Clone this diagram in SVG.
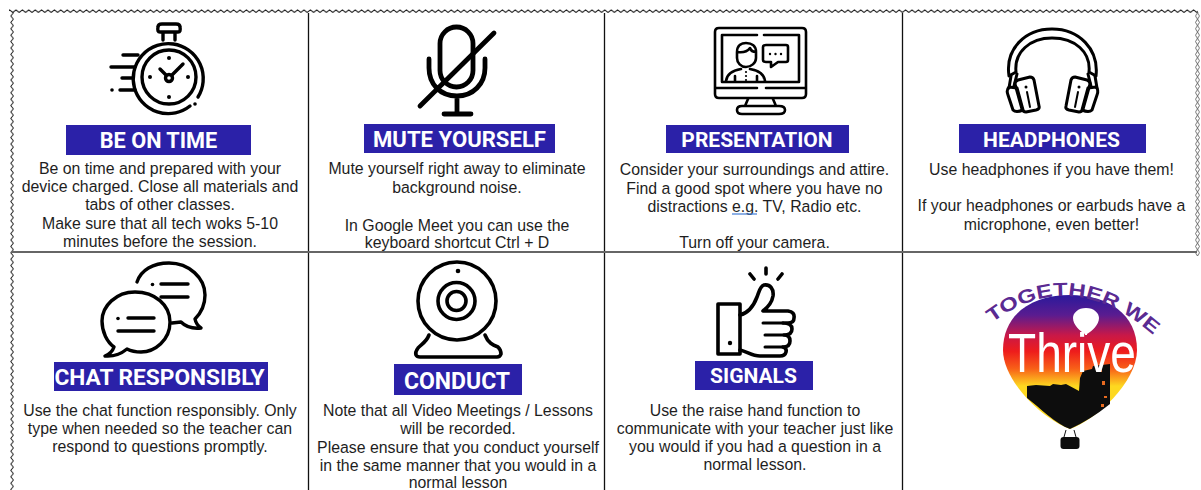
<svg xmlns="http://www.w3.org/2000/svg" xmlns:xlink="http://www.w3.org/1999/xlink" width="1201" height="490" viewBox="0 0 1201 490">
<style>
.t{font-family:"Liberation Sans",Arial,sans-serif;font-size:15.85px;fill:#1e1e1e;text-anchor:middle}
.h{font-family:Roboto,"Liberation Sans",sans-serif;font-size:21px;font-weight:700;fill:#fff;text-anchor:middle}
.b{fill:#2b21a8}
.i{fill:none;stroke:#000;stroke-width:3.4;stroke-linecap:round;stroke-linejoin:round}
.d{fill:#000;stroke:none}
.g{stroke:#111;stroke-width:1.3;fill:none}
.g2{stroke:#666;stroke-width:2;fill:none}
</style>
<defs>
<pattern id="zh" patternUnits="userSpaceOnUse" width="6.4" height="5" y="9"><path d="M0 3.5L3.2 .8L6.4 3.5" fill="none" stroke="#222" stroke-width="1"/></pattern>
<pattern id="zv" patternUnits="userSpaceOnUse" width="5" height="6.4"><path d="M3.500 0L.8 3.200L3.500 6.400" fill="none" stroke="#222" stroke-width="1"/></pattern>
<pattern id="zr" patternUnits="userSpaceOnUse" width="6" height="6.4" x="1195"><path d="M2.500 0L.5 3.200L2.500 6.400M2.500 0L4.500 3.200L2.500 6.400" fill="none" stroke="#555" stroke-width=".8"/></pattern>
<linearGradient id="sky" x1="0" y1="0" x2="0" y2="1"><stop offset="0" stop-color="#2a1a9c"/><stop offset=".15" stop-color="#5a1c90"/><stop offset=".3" stop-color="#c81848"/><stop offset=".42" stop-color="#ee1c1c"/><stop offset=".55" stop-color="#f86018"/><stop offset=".68" stop-color="#fdd820"/></linearGradient>
<path id="arc" d="M992 323Q1072 262 1158 339"/>
</defs>
<rect width="1201" height="490" fill="#fff"/>
<g id="grid">
<rect x="9" y="9" width="1189" height="5" fill="url(#zh)"/>
<rect x="9" y="12" width="5" height="478" fill="url(#zv)"/>
<rect x="1195" y="12" width="6" height="244" fill="url(#zr)"/>
<path class="g" d="M308.500 13V490M604.500 13V490M902.500 13V490"/>
<path class="g2" d="M12 252H1197"/>
</g>
<g id="be-on-time">
<g class="ico">
<path class="i" d="M190 106A35 35 0 1 1 198 97"/><circle class="i" cx="169" cy="77" r="27"/>
<path class="i" d="M163 40V33M175 40V33M160 32Q157 32 158 27Q158 24 162 24H176Q180 24 180 27Q181 32 178 32Z"/>
<path class="i" d="M123 55H138M111 67H135M122 78H132M120 90H135"/>
<circle class="d" cx="112" cy="90" r="1.800"/>
<circle class="d" cx="169" cy="58" r="2"/><circle class="d" cx="169" cy="97" r="2"/><circle class="d" cx="150" cy="77" r="2"/><circle class="d" cx="188" cy="77" r="2"/><circle class="d" cx="195" cy="104" r="1.800"/>
<circle class="i" cx="169" cy="78" r="3.500"/><path class="i" d="M172 75L183 64M166 75L160 69"/>
</g>
<rect class="b" x="66" y="125" width="185" height="30"/><text class="h" x="158.500" y="147.500" style="font-size:21.700px">BE ON TIME</text>
<text class="t"><tspan x="160" y="174">Be on time and prepared with your</tspan><tspan x="160" y="192">device charged. Close all materials and</tspan><tspan x="160" y="210">tabs of other classes.</tspan><tspan x="160" y="229">Make sure that all tech woks 5-10</tspan><tspan x="160" y="247">minutes before the session.</tspan></text>
</g>
<g id="mute-yourself">
<g class="i" style="stroke-width:4.800">
<rect x="440" y="27" width="33" height="60" rx="16.500"/>
<path d="M429 59V68C429 84 440 96 457 96C473 96 485 84 485 68V59M457 96V113M444 114H471M420 106L494 33"/>
</g>
<rect class="b" x="364" y="124" width="191" height="29"/><text class="h" x="459.500" y="146.500" style="font-size:22.100px">MUTE YOURSELF</text>
<text class="t"><tspan x="457" y="174">Mute yourself right away to eliminate</tspan><tspan x="457" y="193">background noise.</tspan><tspan x="457" y="231">In Google Meet you can use the</tspan><tspan x="457" y="248">keyboard shortcut Ctrl + D</tspan></text>
</g>
<g id="presentation">
<g class="i" style="stroke-width:2.600">
<path d="M715 88V32Q715 28 719 28H802Q806 28 806 32V88M715 88V94Q715 98 719 98H802Q806 98 806 94V88H766M757 88H715"/>
<path d="M757 35H722V82H799V35H764"/>
<path d="M748 99L745 106M773 99L776 106M742 106H779Q785 106 785 110Q785 114 779 114H742Q737 114 737 110Q737 106 742 106Z"/>
<path d="M737 52C737 45 742 43 746 43C752 43 756 46 756 52V58C756 63 751 67 746 67C741 67 737 63 737 58ZM737 52C743 53 747 52 750 48C751 51 753 52 756 52"/>
<path d="M726 81C727 73 735 70 741 69M765 81C764 73 756 70 750 69M735 81V76M757 81V76"/>
<path d="M766 45H786Q788 45 788 47V60Q788 62 786 62H778L771 67V62H766Q763 62 763 60V47Q763 45 766 45Z"/>
</g>
<circle class="d" cx="770" cy="54" r="1.200"/><circle class="d" cx="775.500" cy="54" r="1.200"/><circle class="d" cx="781" cy="54" r="1.200"/>
<circle class="d" cx="746" cy="72" r="1.100"/><circle class="d" cx="746" cy="76" r="1.100"/><circle class="d" cx="746" cy="80" r="1.100"/>
<rect class="b" x="666" y="125" width="183" height="28"/><text class="h" x="757" y="146.500">PRESENTATION</text>
<text class="t"><tspan x="754.500" y="175">Consider your surroundings and attire.</tspan><tspan x="754.500" y="194">Find a good spot where you have no</tspan><tspan x="754.500" y="212">distractions e.g. TV, Radio etc.</tspan><tspan x="754.500" y="248">Turn off your camera.</tspan></text>
<path d="M732 214H757" stroke="#4f86d8" stroke-width="1.300" fill="none"/>
</g>
<g id="headphones">
<g class="i" style="stroke-width:3">
<path d="M1009 76C1005 49 1025 29 1052 29C1079 29 1099 49 1096 76L1089 72C1091 52 1075 38 1052 38C1030 38 1014 52 1016 72Z"/>
<path d="M1011 76L1009 88M1017 74L1014 86M1095 76L1097 88M1088 74L1091 86"/>
<path d="M1009 87L1017 88L1023 110Q1016 113 1013 110L1008 95Q1006 90 1009 87Z"/>
<path d="M1018 80L1030 77Q1033 77 1034 80L1039 106Q1040 109 1036 110L1026 112Q1023 112 1022 109L1015 84Q1015 81 1018 80Z"/>
<path d="M1096 87L1088 88L1082 110Q1089 113 1092 110L1097 95Q1099 90 1096 87Z"/>
<path d="M1087 80L1075 77Q1072 77 1071 80L1066 106Q1065 109 1069 110L1079 112Q1082 112 1083 109L1090 84Q1090 81 1087 80Z"/>
<path d="M1027 92L1030 107M1078 92L1075 107" style="stroke-width:2"/>
</g>
<circle class="d" cx="1026" cy="87" r="1.500"/><circle class="d" cx="1079" cy="87" r="1.500"/>
<rect class="b" x="959" y="124" width="187" height="29"/><text class="h" x="1051.500" y="146.500">HEADPHONES</text>
<text class="t"><tspan x="1051.500" y="175">Use headphones if you have them!</tspan><tspan x="1051.500" y="211">If your headphones or earbuds have a</tspan><tspan x="1051.500" y="230">microphone, even better!</tspan></text>
</g>
<g id="chat-responsibly">
<g class="i">
<path d="M137 282C141 270 153 263 169 263C189 263 205 278 205 295C205 305 201 313 195 319C196 324 198 326 201 328C192 329 185 326 181 322L172 323" style="fill:#fff"/>
<path d="M135 292C116 292 102 306 102 321C102 332 107 342 114 347C113 350 110 354 105 356C116 357 122 353 127 349C131 351 136 352 141 352C155 352 170 340 170 322C170 305 155 292 135 292Z" style="fill:#fff"/>
<path d="M161 284H188M161 297H188M128 318H154M118 331H154"/>
</g>
<circle class="d" cx="152.500" cy="284.500" r="1.800"/><circle class="d" cx="118" cy="318.500" r="1.800"/>
<rect class="b" x="54" y="362" width="214" height="29"/><text class="h" x="159.500" y="385" style="font-size:22.700px">CHAT RESPONSIBLY</text>
<text class="t"><tspan x="160" y="416">Use the chat function responsibly. Only</tspan><tspan x="160" y="434">type when needed so the teacher can</tspan><tspan x="160" y="452">respond to questions promptly.</tspan></text>
</g>
<g id="conduct">
<g class="i" style="stroke-width:3.600">
<circle cx="457" cy="301" r="39"/><circle cx="456.500" cy="301" r="18.500"/><circle cx="456.500" cy="301" r="9.500"/>
<path d="M429 335C426 343 420 345 418 348Q415 352 416 355Q417 357 420 357H497Q500 357 501 354Q501 350 498 347C493 345 488 343 485 335"/>
</g>
<circle class="d" cx="458" cy="271" r="2.300"/>
<rect class="b" x="394" y="364" width="128" height="31"/><text class="h" x="457" y="388.500" style="font-size:23px">CONDUCT</text>
<text class="t"><tspan x="458" y="416">Note that all Video Meetings / Lessons</tspan><tspan x="458" y="434">will be recorded.</tspan><tspan x="458" y="453">Please ensure that you conduct yourself</tspan><tspan x="458" y="471">in the same manner that you would in a</tspan><tspan x="458" y="488">normal lesson</tspan></text>
</g>
<g id="signals">
<g class="i" style="stroke-width:3.600">
<path d="M718 304H740V354H718Z"/>
<path d="M740 315C748 313 754 305 757 297C759 292 760 286 764 285C770 284 774 289 773 296C772 302 767 308 763 311H788Q795 312 794 318Q794 323 788 323H783M783 323Q792 323 792 329Q792 335 784 335M784 335Q790 335 790 341Q790 347 783 347M783 347Q787 348 786 352Q785 356 780 356H760C752 356 748 352 740 350"/>
<path d="M763 323H783M765 335H784M765 347H783" style="stroke-width:3"/>
<path d="M766 268V274M750 274L754 279M782 274L778 279"/>
</g>
<circle class="d" cx="730" cy="343" r="2.200"/>
<rect class="b" x="695" y="361" width="118" height="29"/><text class="h" x="753.500" y="383">SIGNALS</text>
<text class="t"><tspan x="755" y="416">Use the raise hand function to</tspan><tspan x="755" y="434">communicate with your teacher just like</tspan><tspan x="755" y="452">you would if you had a question in a</tspan><tspan x="755" y="470">normal lesson.</tspan></text>
</g>
<g id="thrive-logo">
<path d="M1070 429C1044 420 1003 382 1003 350C1003 314 1032 295 1070 295C1108 295 1137 314 1137 350C1137 382 1096 420 1070 429Z" fill="url(#sky)"/>
<path d="M1027 386L1036 385L1050 386L1053 384L1061 385L1066 384L1079 391L1080 378L1083 371L1092 369L1093 366L1110 364L1110 404Q1090 420 1070 429C1056 424 1040 408 1027 398Z" fill="#0d0d0d"/>
<g fill="#e86a20"><rect x="1099" y="368" width="3" height="4"/><rect x="1102" y="381" width="3" height="4"/><rect x="1104" y="396" width="3" height="2"/><rect x="1101" y="404" width="3" height="3"/></g>
<path d="M1086 308C1094 308 1099 313 1099 318C1099 325 1092 331 1087 334L1087 335H1085L1085 334C1080 331 1073 325 1073 318C1073 313 1078 308 1086 308Z" fill="#fff"/>
<text x="1008" y="372" font-family="'Liberation Sans',sans-serif" font-size="55" fill="#fff" textLength="128" lengthAdjust="spacingAndGlyphs">Thrive</text>
<text font-family="'Liberation Sans',sans-serif" font-size="19" font-weight="700" fill="#5a2a92"><textPath xlink:href="#arc" href="#arc" textLength="178" lengthAdjust="spacingAndGlyphs">TOGETHER WE</textPath></text>
<path d="M1066 430L1064 437M1074 430L1076 437" stroke="#111" stroke-width="1" fill="none"/>
<rect x="1060.500" y="437" width="19" height="12" rx="3" fill="#0d0d0d"/>
</g>
</svg>
